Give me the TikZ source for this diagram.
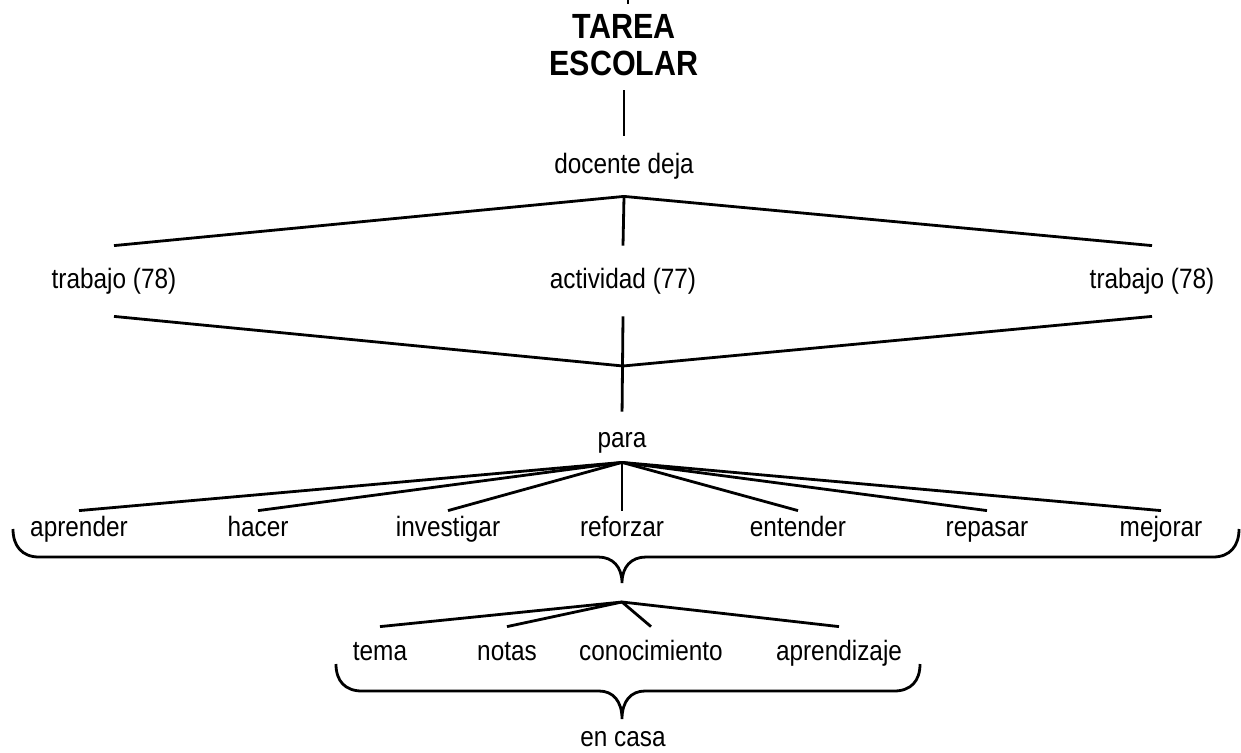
\documentclass[tikz,border=0pt]{standalone}
\usepackage{fontspec}
\setmainfont{Liberation Sans}[FakeStretch=0.87]

\begin{document}
\begin{tikzpicture}[x=1pt,y=-1pt,line width=2.8pt,
	titulo/.style={font=\fontsize{35}{37}\selectfont\bfseries, align=center, inner xsep=0pt, inner ysep=13pt},
	palabra/.style={font=\fontsize{28}{30}\selectfont, inner xsep=0pt, inner ysep=4pt, text height=20pt, text depth=6pt}]
	\useasboundingbox (0,0) rectangle (1241,752);
	\coordinate (arriba) at (628,0);
	\coordinate (arribafin) at (628,4);
	\node[titulo] (tarea) at (624,45) {TAREA\\ESCOLAR};
	\node[palabra, inner ysep=16pt] (docente) at (624,166) {docente deja};
	\node[palabra, inner ysep=21pt] (trab1) at (114,281) {trabajo (78)};
	\node[palabra, inner ysep=21pt] (activ) at (623,281) {actividad (77)};
	\node[palabra, inner ysep=21pt] (trab2) at (1152,281) {trabajo (78)};
	\coordinate (junta) at (623,366);
	\node[palabra, inner ysep=8pt] (para) at (622,440) {para};
	\node[palabra] (aprender) at (79,529) {aprender};
	\node[palabra] (hacer) at (258,529) {hacer};
	\node[palabra] (investigar) at (448,529) {investigar};
	\node[palabra] (reforzar) at (622,529) {reforzar};
	\node[palabra] (entender) at (798,529) {entender};
	\node[palabra] (repasar) at (987,529) {repasar};
	\node[palabra] (mejorar) at (1161,529) {mejorar};
	\coordinate (centro) at (622,602);
	\node[palabra, inner ysep=12pt] (tema) at (380,653) {tema};
	\node[palabra, inner ysep=12pt] (notas) at (507,653) {notas};
	\node[palabra, inner ysep=12pt] (conoc) at (651,653) {conocimiento};
	\node[palabra, inner ysep=12pt] (aprendizaje) at (839,653) {aprendizaje};
	\node[palabra, inner ysep=0pt, text depth=0pt, anchor=base] (casa) at (623,746) {en casa};
	\draw (arriba) -- (arribafin);
	\draw (tarea.south) -- (docente.north);
	\draw (docente.south) -- (trab1.north);
	\draw (docente.south) -- (activ.north);
	\draw (docente.south) -- (trab2.north);
	\draw (trab1.south) -- (junta) -- (trab2.south);
	\draw[shorten >=6pt] (activ.south) -- (para.north);
	\draw (para.south) -- (aprender.north);
	\draw (para.south) -- (hacer.north);
	\draw (para.south) -- (investigar.north);
	\draw (para.south) -- (reforzar.north);
	\draw (para.south) -- (entender.north);
	\draw (para.south) -- (repasar.north);
	\draw (para.south) -- (mejorar.north);
	% llaves
	\draw (13,529) .. controls (13,546) and (22,557) .. (39,557) -- (598,557)
		.. controls (613,557) and (622,567) .. (622,583)
		.. controls (622,567) and (631,557) .. (646,557) -- (1213,557)
		.. controls (1230,557) and (1239,546) .. (1239,529);
	\draw (336,664) .. controls (336,681) and (345,691) .. (362,691) -- (599,691)
		.. controls (613,691) and (622,701) .. (622,719)
		.. controls (622,701) and (631,691) .. (645,691) -- (894,691)
		.. controls (911,691) and (920,681) .. (920,664);
	\draw (centro) -- (tema.north);
	\draw (centro) -- (notas.north);
	\draw (centro) -- (conoc.north);
	\draw (centro) -- (aprendizaje.north);
\end{tikzpicture}
\end{document}
